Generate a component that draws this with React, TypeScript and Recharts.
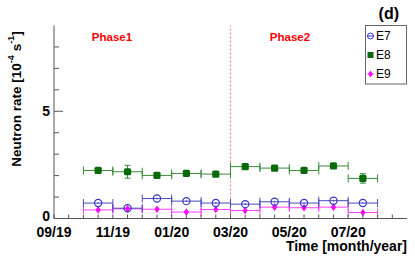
import React from 'react';
import { ComposedChart, Scatter, XAxis, YAxis, ErrorBar, ReferenceLine } from 'recharts';

// months since 09/2019, bin centres
const months = [1.5, 2.5, 3.5, 4.5, 5.5, 6.5, 7.5, 8.5, 9.5, 10.5];
const binHalfWidth = [0.5, 0.5, 0.5, 0.5, 0.5, 0.5, 0.5, 0.5, 0.5, 0.5];

const e7Rate = [0.72, 0.48, 0.93, 0.81, 0.72, 0.67, 0.78, 0.72, 0.83, 0.72];
const e7Err = [0.04, 0.04, 0.04, 0.04, 0.04, 0.04, 0.04, 0.04, 0.04, 0.04];
const e8Rate = [2.24, 2.18, 2.01, 2.1, 2.07, 2.42, 2.35, 2.24, 2.45, 1.87];
const e8Err = [0.1, 0.3, 0.08, 0.08, 0.08, 0.12, 0.1, 0.08, 0.1, 0.22];
const e9Rate = [0.4, 0.45, 0.43, 0.3, 0.42, 0.37, 0.53, 0.5, 0.53, 0.28];
const e9Err = [0.05, 0.05, 0.05, 0.05, 0.05, 0.05, 0.05, 0.05, 0.05, 0.05];

const xTicks = [0, 0.5, 1, 1.5, 2, 2.5, 3, 3.5, 4, 4.5, 5, 5.5, 6, 6.5, 7, 7.5, 8, 8.5, 9, 9.5, 10, 10.5, 11, 11.5];
const xTickLabels: Record<number, string> = { 0: '09/19', 2: '11/19', 4: '01/20', 6: '03/20', 8: '05/20', 10: '07/20' };
const yTicks = [0, 1, 2, 3, 4, 5, 6, 7, 8];
const yTickLabels: Record<number, string> = { 0: '0', 5: '5' };
const phaseSplit = 6;

const build = (rate: number[], err: number[]) =>
  months.map((m, i) => ({ x: m, y: rate[i], ex: binHalfWidth[i], ey: err[i] }));

const e7Data = build(e7Rate, e7Err);
const e8Data = build(e8Rate, e8Err);
const e9Data = build(e9Rate, e9Err);

const FONT = '"Liberation Sans", Arial, sans-serif';
const AXIS = '#555';

const XTick = (props: any) => {
  const { x, y, payload } = props;
  const label = xTickLabels[payload.value];
  return (
    <g>
      <line x1={x} y1={y} x2={x} y2={y - 4} stroke={AXIS} />
      {label && (
        <text x={x} y={y + 18} textAnchor="middle" fontFamily={FONT} fontWeight="bold" fontSize={14} fill="#000">
          {label}
        </text>
      )}
    </g>
  );
};

const YTick = (props: any) => {
  const { x, y, payload } = props;
  const label = yTickLabels[payload.value];
  return (
    <g>
      <line x1={x} y1={y} x2={x + (label ? 9 : 5)} y2={y} stroke={AXIS} />
      {label && (
        <text x={x - 4} y={y + (payload.value === 0 ? -3 : 0)} dy="0.36em" textAnchor="end" fontFamily={FONT} fontWeight="bold" fontSize={14} fill="#000">
          {label}
        </text>
      )}
    </g>
  );
};

const OpenCircle = (p: any) => <circle cx={p.cx} cy={p.cy} r={3.6} fill="none" stroke="#3636c8" strokeWidth={1.2} />;
const Square = (p: any) => <rect x={p.cx - 3.6} y={p.cy - 3.6} width={7.2} height={7.2} rx={1.5} fill="#0a6a0a" />;
const Diamond = (p: any) => (
  <polygon points={`${p.cx},${p.cy - 3.8} ${p.cx + 2.6},${p.cy} ${p.cx},${p.cy + 3.8} ${p.cx - 2.6},${p.cy}`} fill="#ff00ff" />
);

export default function App() {
  return (
    <div style={{ position: 'absolute', left: 0, top: 0, width: 415, height: 259, background: '#fff' }}>
      <ComposedChart width={415} height={259} margin={{ top: 25.5, right: 8, bottom: 0, left: 0 }}>
        <XAxis
          xAxisId="b"
          type="number"
          dataKey="x"
          domain={[0, 12]}
          ticks={xTicks}
          interval={0}
          tick={<XTick />}
          tickSize={0}
          tickMargin={0}
          height={40.5}
          stroke={AXIS}
          allowDataOverflow
        />
        <XAxis xAxisId="t" orientation="top" type="number" domain={[0, 12]} height={0} tick={false} tickLine={false} stroke="#888" />
        <YAxis
          yAxisId="l"
          type="number"
          dataKey="y"
          domain={[0, 9]}
          ticks={yTicks}
          interval={0}
          tick={<YTick />}
          tickSize={0}
          tickMargin={0}
          width={54}
          stroke={AXIS}
          allowDataOverflow
        />
        <YAxis yAxisId="r" orientation="right" type="number" domain={[0, 9]} width={0} tick={false} tickLine={false} stroke="#888" />
        <ReferenceLine xAxisId="b" yAxisId="l" x={phaseSplit} stroke="#f28a8a" strokeDasharray="2 2" strokeWidth={1.2} />

        <Scatter xAxisId="b" yAxisId="l" data={e9Data} shape={<Diamond />} isAnimationActive={false}>
          <ErrorBar dataKey="ex" direction="x" width={4} stroke="#ff40ff" strokeWidth={1} isAnimationActive={false} />
          <ErrorBar dataKey="ey" direction="y" width={0} stroke="#ff40ff" strokeWidth={1} isAnimationActive={false} />
        </Scatter>
        <Scatter xAxisId="b" yAxisId="l" data={e7Data} shape={<OpenCircle />} isAnimationActive={false}>
          <ErrorBar dataKey="ex" direction="x" width={4} stroke="#4a4ac0" strokeWidth={1} isAnimationActive={false} />
          <ErrorBar dataKey="ey" direction="y" width={0} stroke="#4a4ac0" strokeWidth={1} isAnimationActive={false} />
        </Scatter>
        <Scatter xAxisId="b" yAxisId="l" data={e8Data} shape={<Square />} isAnimationActive={false}>
          <ErrorBar dataKey="ex" direction="x" width={4} stroke="#3a8a3a" strokeWidth={1} isAnimationActive={false} />
          <ErrorBar dataKey="ey" direction="y" width={3} stroke="#3a8a3a" strokeWidth={1} isAnimationActive={false} />
        </Scatter>
      </ComposedChart>

      <svg width={415} height={259} style={{ position: 'absolute', left: 0, top: 0, pointerEvents: 'none' }}>
        <text x={16} y={99} transform="rotate(-90 16 99)" textAnchor="middle" dominantBaseline="central" fontFamily={FONT} fontWeight="bold" fontSize={13.5} fill="#000">
          Neutron rate [10<tspan dy={-5} fontSize={9}>-4</tspan>
          <tspan dy={5}> s</tspan>
          <tspan dy={-5} fontSize={9}>-1</tspan>
          <tspan dy={5}>]</tspan>
        </text>
        <text x={407} y={251} textAnchor="end" fontFamily={FONT} fontWeight="bold" fontSize={14} fill="#000">
          Time [month/year]
        </text>
        <text x={399} y={19} textAnchor="end" fontFamily={FONT} fontWeight="bold" fontSize={16} fill="#000">
          (d)
        </text>
        <text x={112} y={41} textAnchor="middle" fontFamily={FONT} fontWeight="bold" fontSize={11.5} fill="#ff0000">
          Phase1
        </text>
        <text x={290} y={41} textAnchor="middle" fontFamily={FONT} fontWeight="bold" fontSize={11.5} fill="#ff0000">
          Phase2
        </text>

        <rect x={365.5} y={25.5} width={41} height={58.5} fill="#fff" stroke="#666" strokeWidth={1} />
        <circle cx={370.5} cy={36} r={3} fill="none" stroke="#3636c8" strokeWidth={1} />
        <line x1={367.5} y1={36} x2={373.5} y2={36} stroke="#3636c8" strokeWidth={1} />
        <rect x={367.5} y={52} width={6} height={6} fill="#0a6a0a" />
        <polygon points="370.5,70.5 372.8,74 370.5,77.5 368.2,74" fill="#ff00ff" />
        <line x1={367.5} y1={74} x2={373.5} y2={74} stroke="#ff00ff" strokeWidth={1} />
        <text x={376} y={40} fontFamily={FONT} fontSize={12} fill="#000">E7</text>
        <text x={376} y={59} fontFamily={FONT} fontSize={12} fill="#000">E8</text>
        <text x={376} y={78} fontFamily={FONT} fontSize={12} fill="#000">E9</text>
      </svg>
    </div>
  );
}
